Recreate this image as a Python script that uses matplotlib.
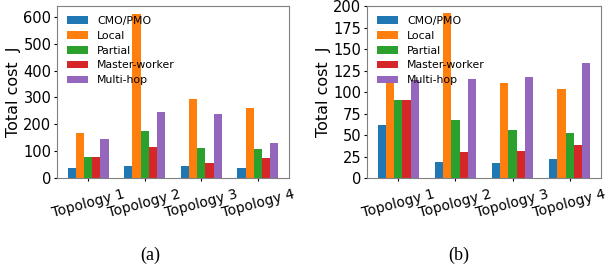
import matplotlib
matplotlib.use("Agg")
import matplotlib.pyplot as plt
import numpy as np

topologies = ["Topology 1", "Topology 2", "Topology 3", "Topology 4"]
methods = ["CMO/PMO", "Local", "Partial", "Master-worker", "Multi-hop"]
colors = ["#1f77b4", "#ff7f0e", "#2ca02c", "#d62728", "#9467bd"]

# (a)
cost_a = {
    "CMO/PMO": [36, 43, 44, 36],
    "Local": [168, 610, 296, 260],
    "Partial": [78, 175, 111, 107],
    "Master-worker": [78, 117, 57, 74],
    "Multi-hop": [145, 246, 239, 132],
}
# (b)
cost_b = {
    "CMO/PMO": [62, 19, 18, 22],
    "Local": [114, 192, 110, 103],
    "Partial": [90.5, 67, 56, 52.5],
    "Master-worker": [90.5, 30.5, 31.5, 38],
    "Multi-hop": [114, 115.5, 117, 134],
}

fig = plt.figure(figsize=(6.08, 2.67), dpi=100)
ax1 = fig.add_axes([0.0938, 0.3333, 0.3816, 0.644])
ax2 = fig.add_axes([0.6036, 0.3333, 0.3850, 0.644])

width = 0.145
x = np.arange(len(topologies))

for ax, data, yt in [(ax1, cost_a, [0, 100, 200, 300, 400, 500, 600]),
                     (ax2, cost_b, [0, 25, 50, 75, 100, 125, 150, 175, 200])]:
    for i, m in enumerate(methods):
        ax.bar(x + (i - 2) * width, data[m], width, color=colors[i], label=m)
    ax.set_xticks(x)
    ax.set_xticklabels(topologies, rotation=15, fontsize=10)
    ax.set_yticks(yt)
    ax.tick_params(axis="y", labelsize=10.5, length=2.5, pad=1.5)
    ax.tick_params(axis="x", length=2.5, pad=4)
    ax.set_ylabel("Total cost  J", fontsize=11.5, labelpad=2)
    for s in ax.spines.values():
        s.set_color("#808080")
    ax.legend(loc="upper left", frameon=False, fontsize=7.8, labelspacing=0.45)

ax2.set_ylim(0, 200)

fig.text(0.247, 0.045, "(a)", fontsize=13, family="Liberation Serif", ha="center", va="center")
fig.text(0.755, 0.045, "(b)", fontsize=13, family="Liberation Serif", ha="center", va="center")

plt.savefig("out.png", dpi=100)
